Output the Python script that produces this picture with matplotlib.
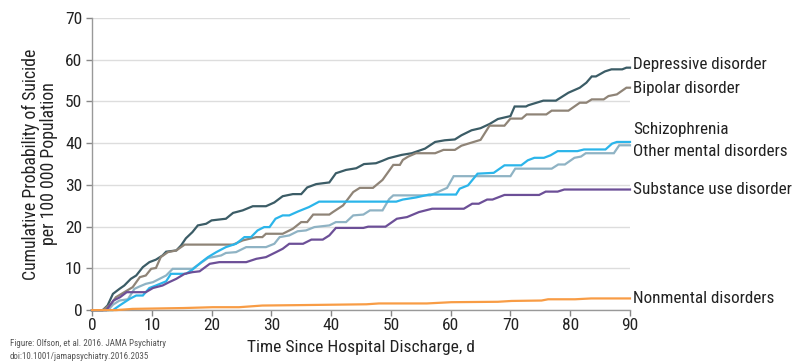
import matplotlib
matplotlib.use("Agg")
import matplotlib.pyplot as plt
from matplotlib import font_manager

# ---------------- data ----------------
dep_days = [0, 1.8, 2.6, 3.5, 4.6, 5.4, 6.5, 7.4, 8.5, 9.6, 10.7, 11.8, 12.4, 14.1, 14.9, 15.7, 16.8, 17.7, 19.1, 20,
            22.4, 23.6, 25.2, 26.9, 29.1, 30.5, 31.9, 33.6, 35, 36, 37.5, 39.7, 40.8, 42.5, 44.2, 45.5, 47.5, 48.6, 49.6,
            51.8, 53.5, 55.7, 57.4, 59, 60.7, 61.8, 63.5, 65, 66.5, 67.9, 70, 70.7, 72.6, 73, 75.5, 77.6, 79.7, 81.6,
            82.7, 83.6, 84.3, 85.8, 86.9, 88.7, 89.4, 90]
dep_vals = [0, 0, 1.1, 3.9, 5.1, 5.9, 7.5, 8.3, 10.3, 11.5, 12.1, 13.1, 14, 14.3, 15.5, 17.2, 18.7, 20.3, 20.7, 21.5,
            21.9, 23.3, 23.9, 24.9, 24.9, 25.8, 27.3, 27.8, 27.8, 29.4, 30.2, 30.6, 32.8, 33.6, 34, 35, 35.2, 35.8, 36.4,
            37.2, 37.6, 38.7, 40.3, 40.7, 40.9, 41.9, 43.1, 43.6, 44.6, 45.8, 46.5, 48.8, 48.8, 49.1, 50.2, 50.2, 52.1, 53.3,
            54.5, 56, 56, 57.2, 57.7, 57.7, 58.1, 58.1]

bip_days = [0, 1.8, 3.2, 4, 5.4, 6.8, 8, 9, 9.9, 10.7, 11.5, 12.7, 14.1, 15.5, 23.6, 25.2, 27.5, 28.5, 29.1, 31.9,
            33.6, 35, 36, 37, 39.7, 40.3, 42, 43.7, 44.8, 47, 48.6, 49.6, 50.4, 51.5, 52, 52.9, 54.2, 57.4, 58.8, 60.7,
            61.8, 64.3, 65, 66.5, 69, 70, 71.9, 72.7, 76, 76.9, 79.7, 81.6, 82.7, 83.6, 85.6, 86.4, 87.8, 89.4, 90]
bip_vals = [0, 0, 1.5, 3.1, 4.3, 5.5, 7.9, 8.3, 9.9, 10.1, 12.7, 13.9, 14.3, 15.7, 15.7, 16.7, 17.5, 17.5, 18.3, 18.3,
            19.5, 21.1, 21.1, 22.9, 22.9, 23.5, 25.1, 28.3, 29.3, 29.3, 31.2, 33.2, 34.8, 34.8, 36, 36.8, 37.6, 37.6, 38.4, 38.4,
            39.4, 40.5, 40.8, 44.2, 44.2, 45.9, 45.9, 46.9, 46.9, 47.8, 47.8, 49.7, 49.7, 50.5, 50.5, 51.3, 51.7, 53.3, 53.3]

sch_days = [0, 3.5, 4.6, 6.3, 7.4, 8.5, 9.6, 10.7, 12.4, 13.2, 15.7, 16.8, 18.3, 19.4, 20.8, 22.4, 24.1, 25.5, 26.6,
            27.7, 28.8, 29.7, 30.7, 31.9, 33, 34.4, 36.3, 38, 50.9, 52, 54.2, 56.4, 60.9, 61.5, 62.9, 64.5, 67.2, 69,
            71.8, 72.9, 74, 75.6, 76.7, 77.9, 81.2, 82.3, 85.9, 87, 87.8, 90]
sch_vals = [0, 0, 1.1, 2.7, 3.5, 3.5, 5.3, 5.9, 6.9, 8.7, 8.7, 9.7, 11.5, 12.7, 13.9, 15.1, 15.9, 17.5, 17.5,
            19.1, 19.9, 19.9, 21.9, 22.7, 22.7, 23.6, 24.7, 26, 26, 26.5, 27, 27.7, 27.7, 29.1, 29.9, 32.7, 32.9, 34.7,
            34.7, 35.9, 36.5, 36.5, 37.1, 38.1, 38.1, 38.5, 38.5, 39.9, 40.3, 40.3]

oth_days = [0, 2.7, 3.5, 4.6, 6, 7.1, 8, 9, 10.2, 11.3, 12.4, 13.5, 16.8, 18, 19.4, 20.2, 21.6, 22.4, 24.1, 25.8,
            29.1, 30.5, 31.4, 33, 34.4, 35.8, 37.2, 39.7, 40.8, 42.5, 43.7, 45.4, 46.5, 48.6, 49.7, 50.4, 56.6, 59.4,
            60.5, 70, 70.8, 76.9, 78, 79.1, 80.7, 81.8, 82.6, 87.3, 88.2, 90]
oth_vals = [0, 0, 1.3, 2.3, 2.6, 5.1, 5.7, 6.3, 6.7, 7.5, 8.3, 9.9, 9.9, 11.1, 12.5, 12.7, 13.1, 13.7, 13.9, 15.1,
            15.1, 15.9, 17.5, 17.9, 18.9, 19.1, 19.9, 20.3, 21.1, 21.1, 22.7, 22.9, 23.9, 23.9, 26.6, 27.5, 27.5, 29.3,
            32.1, 32.1, 33.9, 33.9, 34.9, 34.9, 36.5, 36.8, 37.6, 37.6, 39.5, 39.5]

sub_days = [0, 2.4, 3.6, 4.7, 5.8, 9, 10.2, 11.8, 12.9, 14.1, 15.5, 16.8, 18, 19.7, 21.3, 25.8, 27.5, 29.1, 30.8,
            31.9, 33, 35.3, 36.7, 38.6, 39.7, 40.8, 45.4, 46.2, 49.1, 51, 52.7, 54.7, 56.9, 62.2, 63.6, 64.7, 66.1, 67,
            69, 74.8, 75.9, 77.9, 79, 90]
sub_vals = [0, 0, 2.3, 3.1, 4.3, 4.3, 5.3, 5.9, 6.7, 7.5, 8.7, 9.1, 9.3, 11.1, 11.5, 11.5, 12.3, 12.7, 13.9,
            14.7, 15.9, 15.9, 16.9, 16.9, 17.9, 19.7, 19.7, 20, 20, 21.9, 22.3, 23.5, 24.3, 24.3, 25.5, 25.5, 26.5, 26.5,
            27.6, 27.6, 28.4, 28.4, 28.9, 28.9]

non_days = [0, 4, 6.8, 15.3, 20.2, 24.6, 28.5, 34.7, 40.3, 45.9, 48, 56, 60.1, 67.9, 70.2, 75.2, 76.3, 80.8, 83.5, 90]
non_vals = [0, 0, 0.3, 0.5, 0.7, 0.7, 1.1, 1.2, 1.3, 1.4, 1.6, 1.6, 1.9, 2.0, 2.2, 2.3, 2.6, 2.6, 2.8, 2.8]

series_names = ["Depressive disorder", "Bipolar disorder", "Schizophrenia", "Other mental disorders",
                "Substance use disorder", "Nonmental disorders"]

x_ticks = [0, 10, 20, 30, 40, 50, 60, 70, 80, 90]
y_ticks = [0, 10, 20, 30, 40, 50, 60, 70]

# ---------------- style ----------------
avail = {f.name for f in font_manager.fontManager.ttflist}
fam = None
for cand in ["Roboto Condensed", "Liberation Sans Narrow", "Noto Sans", "DejaVu Sans"]:
    if cand in avail:
        fam = cand
        break
plt.rcParams['font.family'] = [fam, 'DejaVu Sans']

colors = {
    "Depressive disorder": "#3b5c66",
    "Bipolar disorder": "#8f8477",
    "Schizophrenia": "#2bb5ea",
    "Other mental disorders": "#8fb3c4",
    "Substance use disorder": "#6c4f97",
    "Nonmental disorders": "#f89c45",
}
label_y = {
    "Depressive disorder": 58.8,
    "Bipolar disorder": 53.0,
    "Schizophrenia": 43.2,
    "Other mental disorders": 37.9,
    "Substance use disorder": 28.8,
    "Nonmental disorders": 2.9,
}

fig = plt.figure(figsize=(8.0, 3.64), dpi=100)
ax = fig.add_axes([0.115, 0.148, 0.6725, 0.8025])

data = {
    "Depressive disorder": (dep_days, dep_vals),
    "Bipolar disorder": (bip_days, bip_vals),
    "Other mental disorders": (oth_days, oth_vals),
    "Schizophrenia": (sch_days, sch_vals),
    "Substance use disorder": (sub_days, sub_vals),
    "Nonmental disorders": (non_days, non_vals),
}
for name in ["Depressive disorder", "Bipolar disorder", "Other mental disorders", "Schizophrenia",
             "Substance use disorder", "Nonmental disorders"]:
    d, v = data[name]
    ax.plot(d, v, color=colors[name], lw=1.6, solid_joinstyle='miter', clip_on=False, zorder=3)

for name in series_names:
    ax.annotate(name, xy=(90, label_y[name]), xytext=(2.5, 0), textcoords='offset points',
                ha='left', va='center', fontsize=12.3, color='#222222', annotation_clip=False)

ax.set_xlim(0, 90)
ax.set_ylim(0, 70)
ax.set_xticks(x_ticks)
ax.set_yticks(y_ticks)
ax.tick_params(axis='both', labelsize=12.5, colors='#888888', labelcolor='#222222', length=4, width=1)
ax.tick_params(axis='y', pad=3)
ax.tick_params(axis='x', pad=2)
for s in ['top', 'right']:
    ax.spines[s].set_visible(False)
for s in ['left', 'bottom']:
    ax.spines[s].set_color('#999999')
    ax.spines[s].set_linewidth(1)
ax.yaxis.grid(True, color='#dddddd', lw=1)
ax.set_axisbelow(True)

ax.set_ylabel("Cumulative Probability of Suicide\nper 100 000 Population", fontsize=12.8, color='#222222',
              linespacing=1.0, labelpad=5)
ax.set_xlabel("Time Since Hospital Discharge, d", fontsize=12.6, color='#222222', labelpad=5)

fig.text(0.0125, 0.039, "Figure: Olfson, et al. 2016. JAMA Psychiatry\ndoi:10.1001/jamapsychiatry.2016.2035",
         fontsize=6.5, color='#555555', ha='left', va='center', linespacing=1.5)

fig.savefig("out.png", dpi=100)
